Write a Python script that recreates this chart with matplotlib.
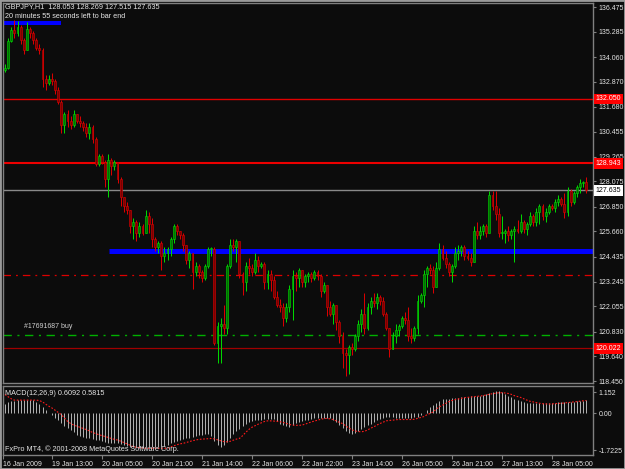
import matplotlib
matplotlib.use('Agg')  # no display
import matplotlib.pyplot as plt
from matplotlib.patches import Rectangle
import numpy as np

plt.rcParams['font.family'] = ['Liberation Sans', 'DejaVu Sans']

# GBPJPY H1 bars
closes = [
    133.55, 134.85, 135.35, 135.2, 135.5, 134.9, 134.4, 135.4, 135.2, 134.9,
    134.5, 134.4, 133.0, 132.8, 133.0, 132.9, 132.5, 131.9, 130.8, 131.3,
    131.0, 130.8, 131.3, 131.0, 130.9, 130.7, 130.4, 130.7, 130.1, 128.9,
    129.3, 129.0, 128.2, 129.1, 128.8, 129.0, 128.2, 127.3, 126.9, 126.7,
    125.9, 126.1, 125.6, 125.9, 125.6, 126.4, 126.0, 125.3, 124.9, 125.1,
    124.5, 124.6, 124.8, 125.3, 125.9, 125.7, 125.5, 125.0, 124.3, 124.6,
    123.7, 124.0, 123.7, 123.4, 124.0, 124.8, 124.8, 120.3, 121.1, 121.2,
    121.0, 124.0, 125.0, 124.9, 125.2, 123.6, 123.2, 124.0, 123.9, 123.7,
    124.3, 124.0, 124.1, 123.2, 123.6, 123.3, 122.5, 122.1, 122.0, 121.5,
    122.0, 122.9, 123.5, 123.4, 123.8, 123.2, 123.5, 123.6, 123.4, 123.7,
    123.5, 122.8, 123.1, 122.0, 121.7, 122.1, 121.3, 120.6, 119.8, 119.7,
    120.1, 120.0, 120.6, 121.2, 121.7, 121.0, 122.0, 122.3, 122.2, 122.5,
    122.3, 121.7, 121.0, 120.0, 120.6, 120.9, 121.1, 121.5, 121.4, 120.6,
    120.5, 121.0, 122.3, 122.6, 123.6, 123.9, 123.8, 123.0, 123.9, 124.8,
    124.4, 124.1, 123.7, 124.0, 124.6, 124.7, 124.9, 124.5, 124.4, 124.2,
    125.7, 125.5, 125.7, 125.9, 125.6, 127.4, 126.9, 126.5, 125.6, 125.6,
    125.7, 125.5, 125.7, 125.8, 125.7, 126.1, 125.8, 126.0, 126.4, 126.1,
    126.6, 126.9, 126.4, 126.6, 126.9, 126.8, 127.1, 127.2, 127.0, 126.6,
    127.6, 127.1, 127.5, 127.8, 128.0, 128.053, 127.635]

highs = [
    133.75, 135.0, 135.5, 135.85, 135.8, 135.6, 135.0, 135.75, 135.5, 135.3,
    135.0, 134.7, 134.5, 133.2, 133.2, 133.3, 133.0, 132.6, 132.0, 131.4,
    131.5, 131.2, 131.5, 131.3, 131.2, 131.0, 130.9, 130.9, 130.8, 130.2,
    129.4, 129.4, 129.1, 129.4, 129.2, 129.1, 129.0, 128.3, 127.3, 127.1,
    126.7, 126.3, 126.2, 126.1, 126.0, 126.7, 126.6, 126.3, 125.4, 125.2,
    125.2, 124.9, 124.9, 125.4, 126.0, 126.0, 125.7, 125.6, 125.0, 124.7,
    124.6, 124.2, 124.1, 123.8, 124.1, 124.9, 124.9, 124.9, 121.3, 121.5,
    122.1, 124.1, 125.3, 125.3, 125.3, 125.2, 123.7, 124.2, 124.4, 124.1,
    124.6, 124.5, 124.2, 124.2, 123.8, 123.8, 123.5, 122.8, 122.4, 122.2,
    122.2, 123.1, 123.8, 123.7, 123.9, 123.8, 123.6, 123.7, 123.7, 123.8,
    123.8, 123.6, 123.2, 123.1, 122.3, 122.2, 122.0, 121.4, 120.8, 120.0,
    120.2, 120.3, 120.7, 121.4, 121.9, 122.7, 122.2, 122.5, 122.7, 122.7,
    122.6, 122.5, 121.8, 121.0, 120.8, 121.2, 121.2, 121.6, 121.8, 122.0,
    121.0, 121.1, 122.6, 122.7, 123.8, 124.0, 124.1, 124.0, 124.2, 125.1,
    125.0, 124.7, 124.2, 124.1, 124.9, 125.0, 125.0, 125.0, 124.7, 124.6,
    125.9, 126.1, 125.9, 126.0, 126.0, 127.6, 127.6, 127.6, 126.8, 126.4,
    125.8, 125.9, 125.8, 125.9, 126.2, 126.5, 126.2, 126.1, 126.6, 126.5,
    126.8, 127.0, 127.0, 126.8, 127.0, 127.0, 127.2, 127.4, 127.3, 127.5,
    127.8, 127.7, 127.6, 127.9, 128.2, 128.1, 128.269]

lows = [
    133.35, 133.5, 134.8, 135.0, 135.1, 134.7, 134.2, 134.4, 135.0, 134.7,
    134.4, 134.2, 132.6, 132.5, 132.7, 132.7, 132.3, 131.8, 130.4, 130.4,
    130.7, 130.6, 130.7, 130.9, 130.7, 130.5, 130.2, 130.1, 129.9, 128.8,
    128.8, 128.9, 127.8, 127.3, 128.4, 128.6, 128.0, 126.9, 126.6, 126.5,
    125.6, 125.3, 125.2, 125.4, 125.5, 125.6, 125.6, 124.9, 124.7, 124.6,
    123.8, 124.2, 124.3, 124.5, 125.1, 125.5, 125.3, 124.7, 124.1, 123.9,
    122.9, 123.5, 123.4, 123.2, 123.3, 123.9, 124.5, 120.2, 119.3, 119.3,
    120.7, 120.7, 123.9, 124.7, 124.2, 123.4, 122.6, 122.8, 123.6, 123.5,
    123.6, 123.7, 123.9, 122.9, 122.9, 122.8, 122.4, 122.0, 121.8, 121.1,
    121.3, 121.8, 121.4, 122.8, 123.0, 123.0, 123.0, 123.2, 123.2, 123.3,
    123.3, 122.5, 122.7, 121.6, 121.6, 121.2, 120.9, 120.3, 119.1, 118.7,
    118.8, 119.7, 119.9, 120.4, 120.8, 120.7, 120.9, 121.7, 122.0, 121.9,
    122.1, 121.6, 120.9, 119.6, 120.0, 120.3, 120.6, 121.0, 121.2, 120.4,
    120.3, 120.4, 120.7, 122.2, 122.0, 123.0, 123.6, 122.7, 123.4, 123.8,
    124.3, 123.9, 123.5, 123.2, 123.9, 124.3, 124.5, 124.3, 124.3, 124.0,
    124.3, 125.3, 125.3, 125.5, 125.4, 125.6, 126.7, 126.2, 125.4, 125.3,
    125.1, 125.2, 125.3, 124.2, 125.6, 125.6, 125.6, 125.5, 125.9, 125.9,
    125.9, 126.0, 126.2, 126.1, 126.5, 126.7, 126.6, 126.9, 126.9, 126.3,
    126.4, 126.9, 127.0, 127.3, 127.5, 127.8, 127.515]

first_open = 133.45
opens = [first_open] + closes[:-1]

# MACD(12,26,9) main line and signal
macd = [
    0.42, 0.5, 0.54, 0.58, 0.6, 0.6, 0.6, 0.62, 0.6, 0.6,
    0.52, 0.42, 0.3, 0.15, 0.04, -0.05, -0.18, -0.3, -0.42, -0.55,
    -0.65, -0.75, -0.85, -0.95, -1.0, -1.05, -1.1, -1.12, -1.15, -1.18,
    -1.2, -1.22, -1.28, -1.32, -1.34, -1.33, -1.34, -1.36, -1.4, -1.44,
    -1.48, -1.5, -1.52, -1.54, -1.56, -1.52, -1.5, -1.5, -1.49, -1.49,
    -1.49, -1.46, -1.4, -1.33, -1.27, -1.22, -1.19, -1.16, -1.12, -1.08,
    -1.04, -1.0, -0.97, -0.95, -0.92, -0.9, -1.0, -1.25, -1.4, -1.49,
    -1.4, -1.27, -1.08, -0.9, -0.78, -0.68, -0.58, -0.48, -0.4, -0.33,
    -0.29, -0.28, -0.27, -0.26, -0.25, -0.23, -0.25, -0.35, -0.45, -0.52,
    -0.56, -0.6, -0.52, -0.44, -0.38, -0.33, -0.3, -0.3, -0.26, -0.2,
    -0.18, -0.19, -0.2, -0.21, -0.22, -0.3, -0.37, -0.5, -0.65, -0.78,
    -0.88, -0.9, -0.87, -0.78, -0.7, -0.6, -0.52, -0.45, -0.37, -0.3,
    -0.25, -0.2, -0.15, -0.16, -0.17, -0.18, -0.19, -0.2, -0.21, -0.22,
    -0.2, -0.17, -0.15, -0.08, 0.02, 0.15, 0.3, 0.38, 0.45, 0.56,
    0.66, 0.67, 0.67, 0.68, 0.69, 0.7, 0.72, 0.74, 0.76, 0.78,
    0.78, 0.78, 0.78, 0.82, 0.86, 0.9, 0.97, 1.03, 1.02, 0.95,
    0.88, 0.8, 0.72, 0.65, 0.6, 0.57, 0.53, 0.49, 0.45, 0.45,
    0.45, 0.45, 0.46, 0.47, 0.47, 0.48, 0.49, 0.5, 0.51, 0.51,
    0.52, 0.52, 0.52, 0.54, 0.56, 0.58, 0.6092]

signal = [
    0.85, 0.75, 0.66, 0.6, 0.6, 0.6, 0.6, 0.6, 0.6, 0.6,
    0.6, 0.58, 0.52, 0.42, 0.33, 0.25, 0.15, 0.05, -0.05, -0.2,
    -0.35, -0.45, -0.52, -0.57, -0.62, -0.67, -0.72, -0.78, -0.85, -0.9,
    -0.95, -0.99, -1.03, -1.07, -1.12, -1.16, -1.19, -1.24, -1.3, -1.36,
    -1.42, -1.49, -1.51, -1.53, -1.55, -1.56, -1.56, -1.56, -1.56, -1.56,
    -1.56, -1.56, -1.56, -1.5, -1.45, -1.4, -1.36, -1.34, -1.3, -1.26,
    -1.22, -1.19, -1.16, -1.15, -1.14, -1.13, -1.12, -1.14, -1.18, -1.22,
    -1.26, -1.27, -1.25, -1.2, -1.15, -1.12, -1.0, -0.85, -0.72, -0.62,
    -0.55, -0.48, -0.42, -0.36, -0.33, -0.33, -0.34, -0.35, -0.37, -0.4,
    -0.44, -0.49, -0.52, -0.53, -0.53, -0.52, -0.48, -0.43, -0.38, -0.34,
    -0.3, -0.26, -0.23, -0.22, -0.24, -0.27, -0.33, -0.4, -0.45, -0.55,
    -0.65, -0.73, -0.78, -0.81, -0.82, -0.8, -0.74, -0.66, -0.6, -0.52,
    -0.45, -0.39, -0.33, -0.31, -0.3, -0.28, -0.27, -0.27, -0.27, -0.27,
    -0.27, -0.26, -0.22, -0.18, -0.14, -0.06, 0.0, 0.07, 0.2, 0.3,
    0.37, 0.45, 0.53, 0.58, 0.62, 0.65, 0.68, 0.71, 0.72, 0.74,
    0.75, 0.77, 0.78, 0.8, 0.83, 0.86, 0.89, 0.91, 0.93, 0.93,
    0.92, 0.9, 0.86, 0.8, 0.76, 0.72, 0.66, 0.6, 0.55, 0.52,
    0.49, 0.46, 0.44, 0.43, 0.42, 0.43, 0.44, 0.45, 0.46, 0.47,
    0.49, 0.5, 0.52, 0.53, 0.55, 0.57, 0.5815]

price_ticks = [136.475, 135.285, 134.060, 132.870, 131.680, 130.455, 129.265,
               128.075, 126.850, 125.660, 124.435, 123.245, 122.055, 120.830,
               119.640, 118.450]
date_labels = ["16 Jan 2009", "19 Jan 13:00", "20 Jan 05:00", "20 Jan 21:00",
               "21 Jan 14:00", "22 Jan 06:00", "22 Jan 22:00", "23 Jan 14:00",
               "26 Jan 05:00", "26 Jan 21:00", "27 Jan 13:00", "28 Jan 05:00"]
date_bars = [-0.6, 15, 31, 47, 63, 79, 95, 111, 127, 143, 159, 175]
macd_tick_labels = ["1.152", "0.00", "-1.7225"]

# chart objects (levels)
sl_level = 132.050
alert_level = 128.943
bid = 127.635
stop_level = 123.56
buy_level = 120.67
low_alert = 120.022
blue_top = 135.72
blue_mid = 124.74

bg = '#0c0c0c'
grey = '#808080'
txt = '#e6e6e6'

fig = plt.figure(figsize=(6.25, 4.69), dpi=100, facecolor=bg)
ax = fig.add_axes([3/625, 1-383/469, 590/625, 380/469], facecolor=bg)
axm = fig.add_axes([3/625, 1-455/469, 590/625, 69/469], facecolor=bg)

x = np.arange(len(closes))
o = np.array(opens); c = np.array(closes)
h = np.array(highs); l = np.array(lows)
up = c >= o
wick = np.where(up, '#00dd00', '#e00000')
body = np.where(up, '#007000', '#7a0000')

# horizontal objects
ax.axhline(sl_level, color='#e00000', lw=1.0, zorder=1)
ax.axhline(alert_level, color='#ee0000', lw=1.5, zorder=1)
ax.axhline(bid, color='#8a8a8a', lw=1.0, zorder=1)
ax.axhline(stop_level, color='#dd0000', lw=0.9, ls=(0, (6, 4, 1.5, 4)), zorder=1)
ax.axhline(buy_level, color='#00b000', lw=1.0, ls=(0, (6, 4, 1.5, 4)), zorder=1)
ax.axhline(low_alert, color='#a00000', lw=0.9, zorder=1)
ax.hlines(blue_top, -0.64, 17.9, color='#0000ff', lw=2.9, zorder=1)
ax.hlines(blue_mid, 33.3, 189, color='#0000ff', lw=3.6, zorder=1)

# candles
ax.vlines(x, np.minimum(l, np.minimum(o, c)), np.maximum(h, np.maximum(o, c)),
          colors=wick, lw=0.7, zorder=3)
ax.bar(x, np.maximum(np.abs(c - o), 0.04), bottom=np.minimum(o, c), width=0.62,
       color=body, edgecolor=wick, linewidth=0.4, zorder=4)

ax.set_xlim(-0.64, 188.16)
ax.set_ylim(118.355, 136.67)
ax.yaxis.tick_right()
ax.set_yticks(price_ticks)
ax.set_yticklabels(["%.3f" % p for p in price_ticks])
ax.tick_params(axis='y', colors=grey, labelcolor=txt, length=2.5, width=0.8,
               labelsize=5, pad=1.5)
ax.tick_params(axis='x', bottom=False, labelbottom=False)
for s in ax.spines.values():
    s.set_color(grey)
    s.set_linewidth(1.0)

# price boxes on the scale
tr = ax.get_yaxis_transform()
for lvl, fc, tc in [(sl_level, '#ff0000', 'white'), (alert_level, '#ff0000', 'white'),
                    (bid, 'white', 'black'), (low_alert, '#ff0000', 'white')]:
    ax.text(1.004, lvl, "%.3f" % lvl, transform=tr, ha='left', va='center',
            fontsize=5, color=tc, clip_on=False, zorder=10,
            bbox=dict(boxstyle='square,pad=0.25', fc=fc, ec='none'))

ax.text(6, buy_level + 0.25, "#17691687 buy", fontsize=5, color='#d0d0d0',
        ha='left', va='bottom')

fig.text(5/625, 1-7/469, "GBPJPY,H1  128.053 128.269 127.515 127.635",
         fontsize=5.2, color=txt, ha='left', va='center')
fig.text(5/625, 1-16/469, "20 minutes 55 seconds left to bar end",
         fontsize=5.2, color=txt, ha='left', va='center')

# MACD panel
axm.vlines(x, 0, macd, colors='#b4b4b4', lw=0.7)
axm.plot(x, signal, color='#ff1a1a', lw=0.8, ls=(0, (1.5, 1.5)))
axm.set_xlim(-0.64, 188.16)
axm.set_ylim(-1.861, 1.233)
axm.yaxis.tick_right()
axm.set_yticks([0.96, 0.0, -1.64])
axm.set_yticklabels(macd_tick_labels)
axm.tick_params(axis='y', colors=grey, labelcolor=txt, length=2.5, width=0.8,
                labelsize=5, pad=1.5)
axm.set_xticks(date_bars)
axm.set_xticklabels(date_labels)
axm.tick_params(axis='x', colors=grey, labelcolor=txt, length=3, width=0.8,
                labelsize=5, pad=1)
for lab in axm.get_xticklabels():
    lab.set_ha('left')
for s in axm.spines.values():
    s.set_color(grey)
    s.set_linewidth(1.0)

axm.text(0.004, 0.89, "MACD(12,26,9) 0.6092 0.5815", transform=axm.transAxes,
         fontsize=5.2, color=txt, ha='left', va='center')
axm.text(0.004, 0.08, "FxPro MT4, \u00a9 2001-2008 MetaQuotes Software Corp.",
         transform=axm.transAxes, fontsize=5.2, color=txt, ha='left', va='center')

fig.patches.append(Rectangle((0, 0), 1, 1, transform=fig.transFigure, fill=False,
                             ec='#9a9a9a', lw=2))

fig.savefig('out.png', dpi=100, facecolor=bg)
plt.close(fig)
